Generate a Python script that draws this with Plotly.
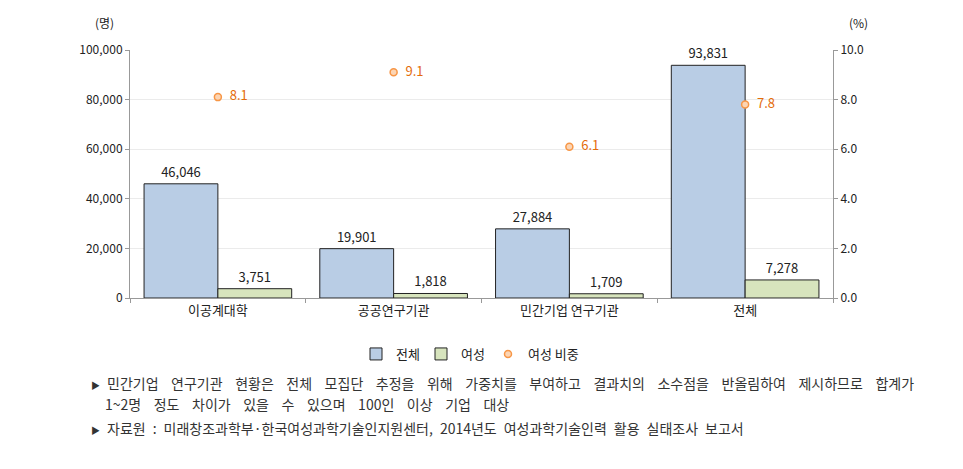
import plotly.graph_objects as go

categories = ['이공계대학', '공공연구기관', '민간기업 연구기관', '전체']
total = [46046, 19901, 27884, 93831]
female = [3751, 1818, 1709, 7278]
female_ratio = [8.1, 9.1, 6.1, 7.8]

font_name = 'Noto Sans CJK KR'

# the page body has an 8px margin, so reference pixels are shifted by it
OFF = 8
W, H = 963, 469
L, R, T, B = 130 - OFF, 833 - OFF, 50 - OFF, 298 - OFF


def px(x):
    return (x - OFF - L) / (R - L)


def py(y):
    return (B - (y - OFF)) / (B - T)


fig = go.Figure()
fig.add_trace(go.Bar(
    x=categories, y=total, name='전체',
    marker=dict(color='#B9CDE5', line=dict(color='#222222', width=1)),
    text=[f'{v:,}' for v in total], textposition='outside',
    textfont=dict(size=13, color='#222222'), cliponaxis=False,
))
fig.add_trace(go.Bar(
    x=categories, y=female, name='여성',
    marker=dict(color='#D7E4BD', line=dict(color='#222222', width=1)),
    text=[f'{v:,}' for v in female], textposition='outside',
    textfont=dict(size=13, color='#222222'), cliponaxis=False,
))
fig.add_trace(go.Scatter(
    x=categories, y=female_ratio, name='여성 비중', yaxis='y2', legend='legend2',
    mode='markers+text',
    marker=dict(size=7, color='#FCD5B4', line=dict(color='#F79646', width=1.5)),
    text=[f'\u2002{v:.1f}' for v in female_ratio], textposition='middle right',
    textfont=dict(size=13, color='#E46C0A'),
))

fig.update_layout(
    width=W, height=H,
    margin=dict(l=L, r=W - R, t=T, b=H - B, autoexpand=False),
    paper_bgcolor='white', plot_bgcolor='white',
    font=dict(family=font_name, size=12, color='#222222'),
    barmode='group', bargap=0.16, bargroupgap=0,
    showlegend=True,
    legend=dict(orientation='h', x=px(356), xanchor='left', y=py(354), yanchor='middle',
                font=dict(size=13), itemwidth=30, entrywidth=20, entrywidthmode='pixels',
                traceorder='normal'),
    legend2=dict(orientation='h', x=px(488), xanchor='left', y=py(354), yanchor='middle',
                 font=dict(size=13), itemwidth=30),
    xaxis=dict(showline=True, linecolor='#999999', ticks='outside', tickson='boundaries',
               ticklen=4, tickcolor='#999999', tickfont=dict(size=13)),
    yaxis=dict(range=[0, 100000], dtick=20000, tickformat=',', showline=True,
               linecolor='#999999', ticks='outside', ticklen=4, tickcolor='#999999',
               gridcolor='#EBEBEB', zeroline=False, tickfont=dict(size=12)),
    yaxis2=dict(range=[0, 10], dtick=2, tickformat='.1f', overlaying='y', side='right',
                showline=True, linecolor='#999999', ticks='outside', ticklen=4,
                tickcolor='#999999', showgrid=False, zeroline=False, tickfont=dict(size=12)),
)

fig.add_annotation(text='(명)', xref='paper', yref='paper', x=px(104), y=py(22),
                   showarrow=False, xanchor='center', yanchor='middle', font=dict(size=12))
fig.add_annotation(text='(%)', xref='paper', yref='paper', x=px(858), y=py(22),
                   showarrow=False, xanchor='center', yanchor='middle', font=dict(size=12))

bullet = '<span style="font-size:9px">▶</span>\u2002'
wide = '\u2002\u2004\u200a'
mid = '\u2002'
notes = [
    (bullet + wide.join('민간기업 연구기관 현황은 전체 모집단 추정을 위해 가중치를 부여하고 '
                        '결과치의 소수점을 반올림하여 제시하므로 합계가'.split(' ')), 89, 383),
    (wide.join('1~2명 정도 차이가 있을 수 있으며 100인 이상 기업 대상'.split(' ')), 103, 404),
    (bullet + mid.join('자료원 : 미래창조과학부·한국여성과학기술인지원센터, 2014년도 '
                       '여성과학기술인력 활용 실태조사 보고서'.split(' ')), 89, 428),
]
for txt, nx, ny in notes:
    fig.add_annotation(text=txt, xref='paper', yref='paper',
                       x=px(nx), y=py(ny),
                       showarrow=False, xanchor='left', yanchor='middle',
                       font=dict(size=14, color='#333333'))

fig.write_html('out.html')
